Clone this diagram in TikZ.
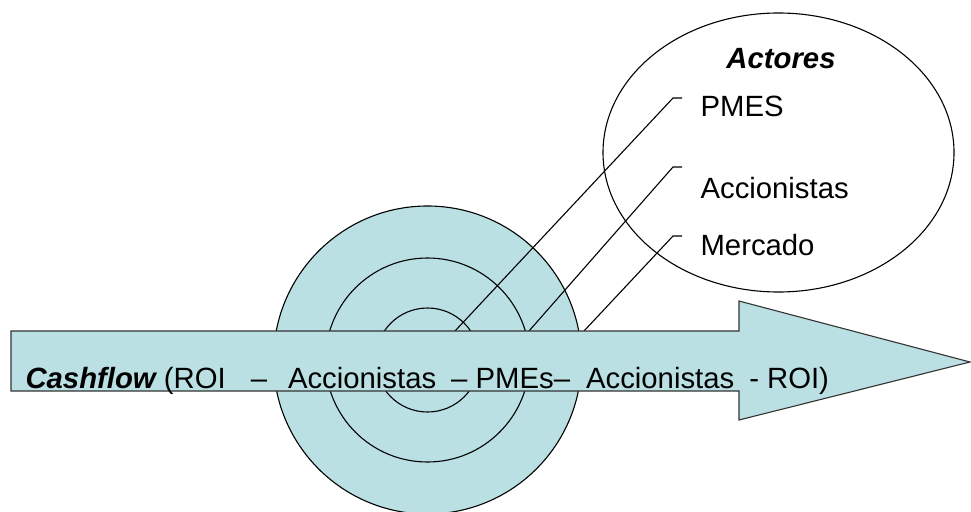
\documentclass[tikz,border=0pt]{standalone}
\usepackage{fontspec}
\setmainfont{Liberation Sans}
\usetikzlibrary{shapes.geometric}
\definecolor{aqua}{HTML}{BBE0E3}
\begin{document}
\begin{tikzpicture}[x=1pt,y=-1pt,line width=1.1pt,font=\fontsize{29.3}{35}\selectfont,
	ring/.style={circle,draw,fill=aqua,inner sep=0pt},
	label/.style={anchor=west,inner sep=0pt}]
			\useasboundingbox (0,0) rectangle (971,511);
			
			\node[ellipse,draw,minimum width=351pt,minimum height=279pt] (actores) at (778.5,152.5) {};
			\node[font=\fontsize{29.3}{35}\selectfont\bfseries\itshape] (titulo) at (781,59) {Actores};
			
			\foreach \r/\n in {154/outer,102/middle,52/inner} {
				\node[ring,minimum size=2*\r pt] (\n) at (427.5,360) {};
			}
			
			\coordinate (s1) at (455,331);
			\coordinate (s2) at (529,331);
			\coordinate (s3) at (584,331);
			\coordinate (k1) at (673,98);
			\coordinate (k2) at (673,167);
			\coordinate (k3) at (673,236);
			\foreach \i in {1,2,3} {
				\draw (s\i) -- (k\i) -- ++(9,0);
			}
			
			\node[label] (pmes) at (700,106) {PMES};
			\node[label] (accion) at (700,188) {Accionistas};
			\node[label] (mercado) at (700,245) {Mercado};
			
			\draw[fill=aqua,draw=black!80] (11,331) -- (739,331) -- (739,301) -- (970,362) -- (739,420) -- (739,391) -- (11,391) -- cycle;
			
			\node[anchor=base west,inner sep=0pt] (flujo) at (25,388) {{\bfseries\itshape Cashflow} (ROI\hspace{25pt}–\hspace{21pt}Accionistas\hspace{15pt}– PMEs–\hspace{16pt}Accionistas\hspace{15pt}- ROI)};
			\end{tikzpicture}
\end{document}
